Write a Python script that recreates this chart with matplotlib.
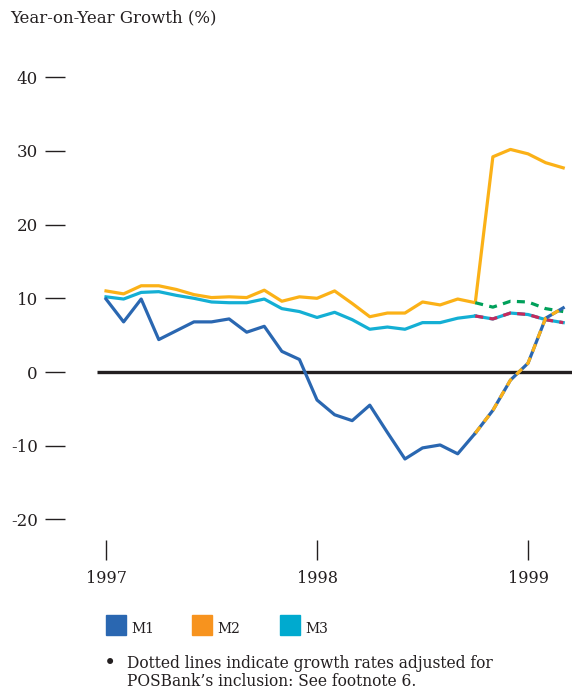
import matplotlib
matplotlib.use("Agg")
import matplotlib.pyplot as plt
from matplotlib.patches import Rectangle

plt.rcParams['font.family'] = ['DejaVu Serif']

# monthly index, 0 = Jan 1997
months = list(range(27))
adj_months = months[21:]

m1 = [9.9, 6.8, 9.9, 4.4, 5.6, 6.8, 6.8, 7.2, 5.4, 6.2, 2.8, 1.7,
      -3.8, -5.8, -6.6, -4.5, -8.2, -11.8, -10.3, -9.9, -11.1, -8.3]
m2 = [11.0, 10.6, 11.7, 11.7, 11.2, 10.5, 10.1, 10.2, 10.1, 11.1, 9.6, 10.2,
      10.0, 11.0, 9.3, 7.5, 8.0, 8.0, 9.5, 9.1, 9.9, 9.4, 29.2, 30.2, 29.6, 28.4, 27.7]
m3 = [10.2, 9.9, 10.8, 10.9, 10.4, 10.0, 9.5, 9.4, 9.4, 9.9, 8.6, 8.2,
      7.4, 8.1, 7.1, 5.8, 6.1, 5.8, 6.7, 6.7, 7.3, 7.6]

# adjusted for POSBank (Oct 98 - Mar 99)
m1_adj = [-8.3, -5.2, -1.1, 1.2, 7.3, 8.7]
m2_adj = [9.4, 8.8, 9.6, 9.5, 8.6, 8.2]
m3_adj = [7.6, 7.2, 8.0, 7.8, 7.1, 6.7]

year_ticks = [0, 12, 24]
year_labels = ['1997', '1998', '1999']
y_ticks = [40, 30, 20, 10, 0, -10, -20]

c_m1 = '#2a67b1'
c_m2 = '#fbb117'
c_m3 = '#14afd4'
c_green = '#00a05a'
c_red = '#c62a5c'
txt = '#231f20'

fig = plt.figure(figsize=(5.72, 6.9), dpi=100)
ax = fig.add_axes([65 / 572, 1 - 540 / 690, 1 - 65 / 572, (540 - 40) / 690])

ax.hlines(0, -0.5, 26.5, color=txt, lw=2.4, zorder=1)

lw = 2.3
ax.plot(months[:len(m3)], m3, color=c_m3, lw=lw, zorder=2)
ax.plot(months, m2, color=c_m2, lw=lw, zorder=3)
ax.plot(months[:len(m1)], m1, color=c_m1, lw=lw, zorder=4)

# adjusted (dotted) lines
ax.plot(adj_months, m3_adj, color=c_m3, lw=lw, zorder=5)
ax.plot(adj_months, m3_adj, color=c_red, lw=lw, dashes=(2.5, 2), zorder=6)
ax.plot(adj_months, m2_adj, color=c_green, lw=lw, dashes=(2.5, 2), zorder=5)
ax.plot(adj_months, m1_adj, color=c_m1, lw=lw, zorder=7)
ax.plot(adj_months, m1_adj, color=c_m2, lw=lw, dashes=(2.5, 2), zorder=8)

ax.set_xlim(-41 / 17.58, 26.5)
ax.set_ylim((372 - 540) / 7.37, (372 - 40) / 7.37)

for s in ax.spines.values():
    s.set_visible(False)

ax.set_yticks(y_ticks)
ax.set_yticklabels([str(v) for v in y_ticks])
ax.set_xticks(year_ticks)
ax.set_xticklabels(year_labels)
ax.tick_params(axis='y', direction='out', length=14.5, width=1.0, pad=5,
               colors=txt, labelsize=12)
ax.tick_params(axis='x', direction='out', length=14.5, width=1.0, pad=7,
               colors=txt, labelsize=11.5)

fig.text(10 / 572, 1 - 18 / 690, 'Year-on-Year Growth (%)', fontsize=12,
         color=txt, va='center', ha='left')

# legend
for x0, label, col in [(106, 'M1', c_m1), (192, 'M2', '#f7931e'), (280, 'M3', '#00aacf')]:
    fig.patches.append(Rectangle((x0 / 572, 1 - 635 / 690), 20 / 572, 20 / 690,
                                 transform=fig.transFigure, color=col))
    fig.text((x0 + 25) / 572, 1 - 629 / 690, label, fontsize=10, color=txt,
             va='center', ha='left')

fig.text(110 / 572, 1 - 664 / 690, '\u2022', fontsize=15, color=txt,
         va='center', ha='center')
fig.text(127 / 572, 1 - 664 / 690, 'Dotted lines indicate growth rates adjusted for',
         fontsize=11.2, color=txt, va='center')
fig.text(127 / 572, 1 - 681 / 690, 'POSBank\u2019s inclusion: See footnote 6.',
         fontsize=11.2, color=txt, va='center')

fig.savefig('out.png', dpi=100)
